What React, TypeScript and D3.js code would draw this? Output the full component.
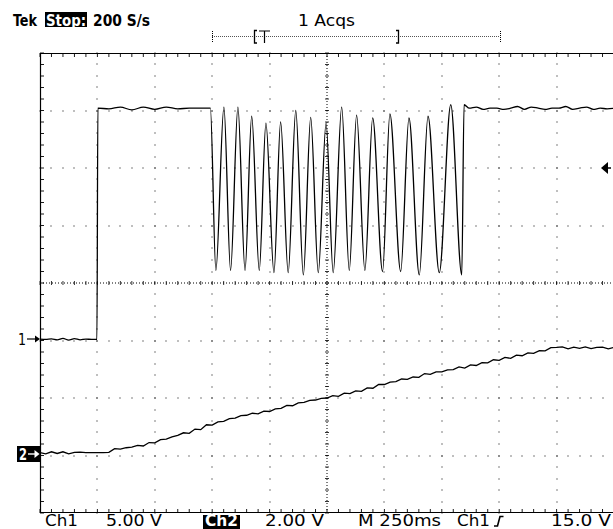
import React from "react";
import * as d3 from "d3";

// scope settings
const timePerDiv = 250; // M 250ms
const ch1VoltsPerDiv = 5; // Ch1 5.00 V
const ch2VoltsPerDiv = 2; // Ch2 2.00 V
const ch1GroundDiv = -1;
const ch2GroundDiv = -3;
const triggerLevel = 15; // Ch1 15.0 V

// Ch1 : low level, then high, then burst, then high again
const ch1LowMs = [0, 25, 50, 75, 100, 125, 150, 175, 200, 225, 248];
const ch1LowV = [0.12, 0.1, 0.14, 0.05, 0.18, 0.04, 0.16, 0.06, 0.12, 0.1, 0.1];
const ch1HighMs = [252, 300, 350, 400, 450, 500, 550, 600, 650, 700, 742];
const ch1HighV = [20.2, 20.15, 20.3, 20.05, 20.3, 20.1, 20.3, 20.15, 20.2, 20.2, 20.2];
const burstMaxMs = [801, 862, 922, 984, 1048, 1114, 1179, 1246, 1314, 1379, 1449, 1524, 1607, 1690, 1789];
const burstMaxV = [20.3, 20.3, 19.5, 18.9, 19.0, 20.0, 19.4, 18.9, 20.3, 19.6, 19.35, 19.7, 19.35, 19.5, 20.5];
const burstMinMs = [766, 830, 893, 955, 1019, 1081, 1147, 1212, 1277, 1347, 1415, 1492, 1571, 1652, 1739, 1837];
const burstMinV = [6.1, 6.1, 6.1, 6.1, 5.9, 5.9, 5.7, 5.9, 5.9, 6.1, 6.1, 6.0, 6.0, 5.7, 5.9, 5.7];
const ch1TailMs = [1847, 1870, 1900, 1930, 1960, 1990, 2020, 2050, 2080, 2110, 2140, 2170, 2200, 2230, 2260, 2290, 2320, 2350, 2380, 2410, 2440, 2470, 2500];
const ch1TailV = [20.5, 20.2, 20.3, 20.1, 20.2, 20.2, 20.1, 20.2, 20.35, 20.1, 20.3, 20.2, 20.1, 20.2, 20.2, 20.35, 20.1, 20.2, 20.3, 20.1, 20.2, 20.15, 20.2];

// Ch2 : one sample every 25 ms
const ch2SampleMs = 25;
const ch2Volts = [
  0.10, 0.06, 0.13, 0.07, 0.13, 0.06, 0.11, 0.12, 0.10, 0.10, 0.10, 0.10,
  0.11, 0.24, 0.22, 0.27, 0.29, 0.35, 0.33, 0.45, 0.44, 0.55,
  0.57, 0.65, 0.70, 0.79, 0.77, 0.92, 0.90, 1.07, 1.06, 1.17,
  1.19, 1.28, 1.30, 1.39, 1.40, 1.47, 1.45, 1.54, 1.53, 1.62,
  1.64, 1.74, 1.73, 1.83, 1.85, 1.92, 1.93, 1.99, 2.00, 2.08,
  2.06, 2.17, 2.15, 2.25, 2.23, 2.35, 2.34, 2.47, 2.47, 2.55,
  2.57, 2.66, 2.65, 2.73, 2.72, 2.85, 2.82, 2.91, 2.91, 2.98,
  2.99, 3.08, 3.04, 3.15, 3.13, 3.23, 3.22, 3.33, 3.31, 3.41,
  3.38, 3.49, 3.47, 3.57, 3.55, 3.65, 3.64, 3.75, 3.76, 3.78,
  3.71, 3.77, 3.73, 3.78, 3.72, 3.76, 3.77, 3.71, 3.76,
];

const W = 613;
const H = 529;
const font = "'DejaVu Sans Condensed', 'DejaVu Sans', sans-serif";

const x = d3.scaleLinear().domain([0, timePerDiv * 10]).range([40, 614]);
const yDiv = d3.scaleLinear().domain([-4, 4]).range([513, 53]);
const y1 = (v: number) => yDiv(v / ch1VoltsPerDiv + ch1GroundDiv);
const y2 = (v: number) => yDiv(v / ch2VoltsPerDiv + ch2GroundDiv);

type Pt = [number, number];
const zip = (ts: number[], vs: number[]): Pt[] => ts.map((t, i) => [t, vs[i]]);

const burst: Pt[] = [...zip(burstMaxMs, burstMaxV), ...zip(burstMinMs, burstMinV)].sort(
  (a, b) => a[0] - b[0]
);
const ch1Points: Pt[] = [
  ...zip(ch1LowMs, ch1LowV),
  ...zip(ch1HighMs, ch1HighV),
  ...burst,
  ...zip(ch1TailMs, ch1TailV),
];
const ch2Points: Pt[] = ch2Volts.map((v, i) => [i * ch2SampleMs, v]);

const ch1Line = d3
  .line<Pt>()
  .x((d) => x(d[0]))
  .y((d) => y1(d[1]))
  .curve(d3.curveMonotoneX);
const ch2Line = d3
  .line<Pt>()
  .x((d) => x(d[0]))
  .y((d) => y2(d[1]));

const Graticule = () => {
  const minorT = d3.range(0, 2500.1, timePerDiv / 5);
  const minorY = d3.range(-4, 4.01, 0.2);
  const majorT = d3.range(1, 10).map((i) => i * timePerDiv);
  const majorY = d3.range(-3, 4);
  const dots: Pt[] = [];
  majorT.forEach((t) => {
    if (t === 1250) return;
    minorY.forEach((d) => dots.push([x(t), yDiv(d)]));
  });
  majorY.forEach((d) => {
    if (d === 0) return;
    minorT.forEach((t) => dots.push([x(t), yDiv(d)]));
  });
  const cx = x(1250);
  const cy = yDiv(0);
  return (
    <g>
      {dots.map(([px, py], i) => (
        <rect key={i} x={Math.round(px) - 0.5} y={Math.round(py) - 0.5} width={1} height={1} fill="#000" />
      ))}
      {/* centre axes */}
      <line x1={cx} x2={cx} y1={53} y2={513} stroke="#000" strokeWidth={1} strokeDasharray="1 2" />
      <line x1={40} x2={614} y1={cy} y2={cy} stroke="#000" strokeWidth={1} strokeDasharray="1 2" />
      {minorY.map((d) => (
        <line key={"cy" + d} x1={cx - 2} x2={cx + 2} y1={yDiv(d)} y2={yDiv(d)} stroke="#000" strokeWidth={0.8} />
      ))}
      {minorT.map((t) => (
        <line key={"cx" + t} x1={x(t)} x2={x(t)} y1={cy - 2} y2={cy + 2} stroke="#000" strokeWidth={0.8} />
      ))}
      {/* frame */}
      <path d={`M614,53.5 H40.5 V512.5 H614`} fill="none" stroke="#000" strokeWidth={1.2} />
      {minorT.map((t) => (
        <g key={"ft" + t}>
          <line x1={x(t)} x2={x(t)} y1={53} y2={57} stroke="#000" strokeWidth={0.9} />
          <line x1={x(t)} x2={x(t)} y1={509} y2={513} stroke="#000" strokeWidth={0.9} />
        </g>
      ))}
      {minorY.map((d) => (
        <line key={"fl" + d} x1={40} x2={44} y1={yDiv(d)} y2={yDiv(d)} stroke="#000" strokeWidth={0.9} />
      ))}
    </g>
  );
};

const Label = ({ x: lx, y: ly, w, text, size = 15, weight = 400, fill = "#000" }: any) => (
  <text
    x={lx}
    y={ly}
    fontFamily={font}
    fontSize={size}
    fontWeight={weight}
    fill={fill}
    textLength={w}
    lengthAdjust="spacingAndGlyphs"
  >
    {text}
  </text>
);

const App = () => {
  const trigY = y1(triggerLevel);
  const g1 = yDiv(ch1GroundDiv) - 1.5;
  const g2 = yDiv(ch2GroundDiv) - 1.5;
  return (
    <svg
      width={W}
      height={H}
      viewBox={`0 0 ${W} ${H}`}
      style={{ position: "fixed", left: 0, top: 0, background: "#fff" }}
    >
      <rect width={W} height={H} fill="#fff" />

      {/* header */}
      <Label x={13} y={25.5} w={24} text="Tek" weight={700} size={16} />
      <rect x={45} y={12} width={42} height={15} fill="#000" />
      <Label x={46} y={25.5} w={40} text="Stop:" weight={700} size={16} fill="#fff" />
      <Label x={93} y={25.5} w={57} text="200 S/s" weight={600} size={16} />
      <Label x={298} y={25.5} w={57} text="1 Acqs" size={16} />

      {/* record bracket */}
      <line x1={212} x2={500} y1={36.5} y2={36.5} stroke="#555" strokeWidth={1} strokeDasharray="1 1" />
      <line x1={212.5} x2={212.5} y1={31} y2={43} stroke="#000" strokeWidth={1} strokeDasharray="1 1" />
      <line x1={500.5} x2={500.5} y1={31} y2={43} stroke="#000" strokeWidth={1} strokeDasharray="1 1" />
      <path d="M257,30.5 H254.5 V43 H257" fill="none" stroke="#000" strokeWidth={1.3} />
      <path d="M259,31 H270 M264.5,31 V43" fill="none" stroke="#000" strokeWidth={1.2} />
      <path d="M396,30.5 H398.5 V43 H396" fill="none" stroke="#000" strokeWidth={1.3} />

      <Graticule />

      <clipPath id="plotClip">
        <rect x={40} y={40} width={574} height={480} />
      </clipPath>
      <g clipPath="url(#plotClip)">
        <path d={ch2Line(ch2Points) ?? ""} fill="none" stroke="#000" strokeWidth={1.3} />
        <path d={ch1Line(ch1Points) ?? ""} fill="none" stroke="#000" strokeWidth={1.3} />
      </g>

      {/* channel ground markers */}
      <Label x={18} y={g1 + 6} w={8} text="1" size={16} />
      <path d={`M27,${g1} H36`} stroke="#000" strokeWidth={1.2} />
      <path d={`M40,${g1} L35,${g1 - 3.5} L35,${g1 + 3.5} Z`} fill="#000" />
      <rect x={17} y={g2 - 8} width={23} height={16} fill="#000" />
      <Label x={19} y={g2 + 6} w={8} text="2" size={16} weight={700} fill="#fff" />
      <path d={`M28,${g2} H36`} stroke="#fff" strokeWidth={1.4} />
      <path d={`M39.5,${g2} L34.5,${g2 - 4} L34.5,${g2 + 4} Z`} fill="#fff" />

      {/* trigger level */}
      <path d={`M601,${trigY} L608,${trigY - 6} L608,${trigY + 6} Z`} fill="#000" />
      <path d={`M607,${trigY} H611`} stroke="#000" strokeWidth={1.5} />

      {/* footer */}
      <Label x={45} y={526} w={33} text="Ch1" />
      <Label x={106} y={526} w={56} text="5.00 V" />
      <rect x={203} y={515} width={37} height={14} fill="#000" />
      <Label x={205} y={526} w={33} text="Ch2" weight={700} fill="#fff" />
      <Label x={265} y={526} w={59} text="2.00 V" />
      <Label x={358} y={526} w={83} text="M 250ms" />
      <Label x={457} y={526} w={33} text="Ch1" />
      <path d="M494,526 H497.5 L500,516.5 H503.5" fill="none" stroke="#000" strokeWidth={1.6} />
      <Label x={551} y={526} w={60} text="15.0 V" />
    </svg>
  );
};

export default App;
